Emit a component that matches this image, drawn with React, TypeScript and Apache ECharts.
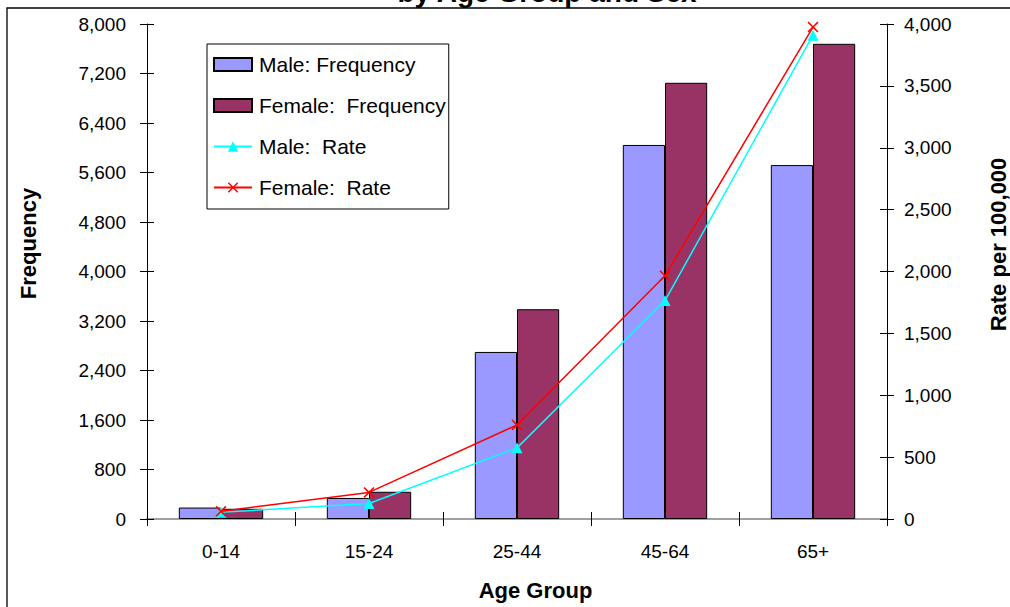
import React, { useEffect, useRef } from "react";
import * as echarts from "echarts";

const categories = ["0-14", "15-24", "25-44", "45-64", "65+"];
const maleFrequency = [185, 340, 2700, 6045, 5720];
const femaleFrequency = [165, 440, 3390, 7050, 7680];
const maleRate = [55, 125, 575, 1765, 3910];
const femaleRate = [62, 215, 760, 1965, 3975];

const seriesNames = ["Male: Frequency", "Female:  Frequency", "Male:  Rate", "Female:  Rate"];
const titleText = "by Age Group and Sex";

const FONT = "'Liberation Sans', Arial, sans-serif";
const xSymbol = "path://M0,1 L1,0 L5,4 L9,0 L10,1 L6,5 L10,9 L9,10 L5,6 L1,10 L0,9 L4,5 Z";

const fmt = (v: number) => v.toLocaleString("en-US");

export default function App() {
  const ref = useRef<HTMLDivElement>(null);
  useEffect(() => {
    if (!ref.current) return;
    const chart = echarts.init(ref.current, null, { renderer: "svg" });
    const axisLabelBase = { color: "#000", fontSize: 19, fontFamily: FONT };
    const nameStyle = { fontSize: 22, fontWeight: "bold", fontFamily: FONT, color: "#000" };
    chart.setOption({
      animation: false,
      backgroundColor: "#fff",
      graphic: [
        {
          type: "rect",
          shape: { x: 7, y: 8, width: 1010, height: 610 },
          style: { fill: "none", stroke: "#000", lineWidth: 1.3 },
          silent: true,
          z: 0,
        },
        {
          type: "text",
          x: 547,
          y: 6,
          style: {
            text: titleText,
            fontSize: 28,
            fontWeight: "bold",
            fontFamily: FONT,
            fill: "#000",
            align: "center",
            verticalAlign: "bottom",
          },
          z: 10,
        },
      ],
      grid: {
        left: 147,
        right: 123,
        top: 24,
        bottom: 88,
        containLabel: false,
        outerBoundsMode: "none",
      },
      legend: {
        orient: "vertical",
        left: 207,
        top: 44,
        padding: [10, 3, 11, 6],
        itemGap: 20,
        itemWidth: 38,
        itemHeight: 13,
        backgroundColor: "#fff",
        borderColor: "#000",
        borderWidth: 1,
        textStyle: { fontSize: 21, fontFamily: FONT, color: "#000", lineHeight: 20, padding: [0, 0, 0, 2] },
        data: [
          { name: seriesNames[0], icon: "rect" },
          { name: seriesNames[1], icon: "rect" },
          { name: seriesNames[2] },
          { name: seriesNames[3] },
        ],
      },
      xAxis: [
        {
          type: "category",
          data: categories,
          position: "bottom",
          name: "Age Group",
          nameLocation: "middle",
          nameGap: 60,
          nameTextStyle: { ...nameStyle, padding: [0, 0, 0, 37] },
          axisLine: { show: true, lineStyle: { color: "#000", width: 1 } },
          axisTick: { show: true, inside: false, length: 7, lineStyle: { color: "#000" } },
          axisLabel: { ...axisLabelBase, margin: 23 },
          splitLine: { show: false },
        },
        {
          type: "category",
          data: categories,
          position: "bottom",
          axisLine: { show: false },
          axisTick: { show: true, inside: true, length: 7, lineStyle: { color: "#000" } },
          axisLabel: { show: false },
          splitLine: { show: false },
        },
        {
          type: "category",
          data: categories,
          position: "top",
          axisLine: { show: true, lineStyle: { color: "#a0a0a0", width: 2 } },
          axisTick: { show: false },
          axisLabel: { show: false },
          splitLine: { show: false },
        },
      ],
      yAxis: [
        {
          type: "value",
          position: "left",
          min: 0,
          max: 8000,
          interval: 800,
          name: "Frequency",
          nameLocation: "middle",
          nameRotate: 90,
          nameGap: 108,
          nameTextStyle: { ...nameStyle, padding: [0, 0, 0, 56] },
          axisLine: { show: true, lineStyle: { color: "#000", width: 1 } },
          axisTick: { show: true, inside: false, length: 7, lineStyle: { color: "#000" } },
          axisLabel: { ...axisLabelBase, margin: 21, formatter: fmt },
          splitLine: { show: false },
        },
        {
          type: "value",
          position: "right",
          min: 0,
          max: 4000,
          interval: 500,
          name: "Rate per 100,000",
          nameLocation: "middle",
          nameRotate: 90,
          nameGap: 100,
          nameTextStyle: { ...nameStyle, padding: [0, 0, 0, 54] },
          axisLine: { show: true, lineStyle: { color: "#000", width: 1 } },
          axisTick: { show: true, inside: false, length: 7, lineStyle: { color: "#000" } },
          axisLabel: { ...axisLabelBase, margin: 17, formatter: fmt },
          splitLine: { show: false },
        },
        {
          type: "value",
          position: "left",
          min: 0,
          max: 8000,
          interval: 800,
          axisLine: { show: false },
          axisTick: { show: true, inside: true, length: 7, lineStyle: { color: "#000" } },
          axisLabel: { show: false },
          splitLine: { show: false },
        },
        {
          type: "value",
          position: "right",
          min: 0,
          max: 4000,
          interval: 500,
          axisLine: { show: false },
          axisTick: { show: true, inside: true, length: 7, lineStyle: { color: "#000" } },
          axisLabel: { show: false },
          splitLine: { show: false },
        },
      ],
      series: [
        {
          name: seriesNames[0],
          type: "bar",
          data: maleFrequency,
          xAxisIndex: 0,
          yAxisIndex: 0,
          barGap: "0%",
          barCategoryGap: "43%",
          itemStyle: { color: "#9999FF", borderColor: "#000", borderWidth: 1 },
        },
        {
          name: seriesNames[1],
          type: "bar",
          data: femaleFrequency,
          xAxisIndex: 0,
          yAxisIndex: 0,
          barGap: "0%",
          barCategoryGap: "43%",
          itemStyle: { color: "#993366", borderColor: "#000", borderWidth: 1 },
        },
        {
          name: seriesNames[2],
          type: "line",
          data: maleRate,
          xAxisIndex: 0,
          yAxisIndex: 1,
          symbol: "triangle",
          symbolSize: 11,
          showAllSymbol: true,
          lineStyle: { color: "#00FFFF", width: 1.5 },
          itemStyle: { color: "#00FFFF" },
          z: 5,
        },
        {
          name: seriesNames[3],
          type: "line",
          data: femaleRate,
          xAxisIndex: 0,
          yAxisIndex: 1,
          symbol: xSymbol,
          symbolSize: 11,
          showAllSymbol: true,
          lineStyle: { color: "#FF0000", width: 1.5 },
          itemStyle: { color: "#FF0000" },
          z: 6,
        },
      ],
    });
    return () => chart.dispose();
  }, []);
  return (
    <div
      ref={ref}
      style={{ position: "fixed", left: 0, top: 0, width: 1010, height: 607, background: "#fff" }}
    />
  );
}
